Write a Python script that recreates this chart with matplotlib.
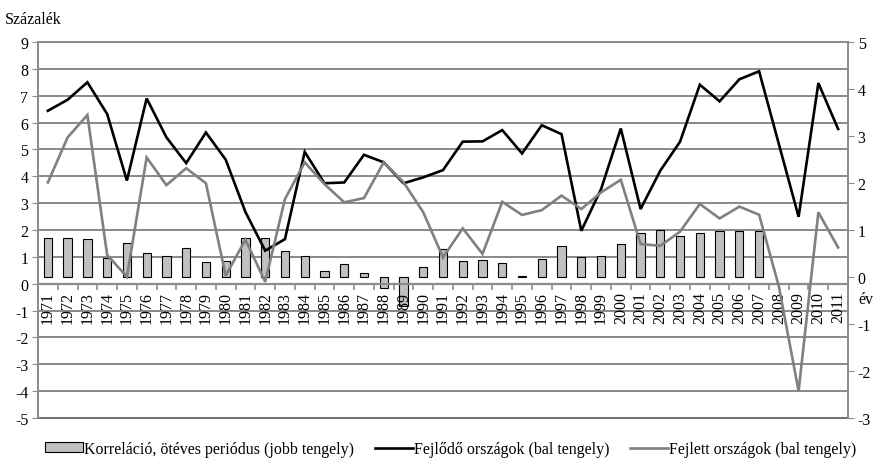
import matplotlib
matplotlib.use("Agg")
import matplotlib.pyplot as plt
from matplotlib.transforms import blended_transform_factory
from matplotlib.lines import Line2D
from matplotlib.patches import Patch
import numpy as np

years = list(range(1971, 2012))
year_labels = [str(y) for y in years]

# Correlation (right axis), five-year period; nan = no bar
korrelacio = [0.83, 0.84, 0.80, 0.40, 0.73, 0.52, 0.45, 0.62, 0.31, 0.33,
              0.82, 0.82, 0.55, 0.44, 0.12, 0.28, 0.09, -0.23, -0.61, 0.22,
              0.60, 0.34, 0.36, 0.29, 0.02, 0.38, 0.67, 0.42, 0.45, 0.70,
              0.93, 0.99, 0.87, 0.93, 0.98, 0.98, 0.97, np.nan, np.nan, np.nan, np.nan]

# Developing countries (left axis)
fejlodo = [6.44, 6.85, 7.50, 6.32, 3.84, 6.90, 5.45, 4.49, 5.63, 4.62,
           2.67, 1.23, 1.66, 4.91, 3.74, 3.77, 4.80, 4.52, 3.74, 3.96,
           4.23, 5.29, 5.30, 5.72, 4.85, 5.90, 5.57, 1.97, 3.52, 5.78,
           2.78, 4.21, 5.29, 7.41, 6.79, 7.61, 7.91, 5.20, 2.49, 7.47, 5.76]

# Developed countries (left axis)
fejlett = [3.77, 5.45, 6.28, 1.07, 0.26, 4.70, 3.67, 4.30, 3.74, 0.30,
           1.64, 0.07, 3.15, 4.52, 3.71, 3.03, 3.19, 4.52, 3.78, 2.66,
           0.98, 2.06, 1.11, 3.05, 2.56, 2.74, 3.28, 2.78, 3.40, 3.87,
           1.48, 1.41, 1.94, 2.97, 2.43, 2.87, 2.57, -0.10, -4.00, 2.66, 1.35]

left_ticks = list(range(-5, 10))
right_ticks = list(range(-3, 6))

plt.rcParams['font.family'] = ['Liberation Serif', 'DejaVu Serif']
plt.rcParams['axes.unicode_minus'] = False
fs = 11.5
grid_col = '#6a6a6a'
axis_col = '#8c8c8c'

fig = plt.figure(figsize=(8.75, 4.64), dpi=100)
ax = fig.add_axes([38/875, 1-419/464, (848-38)/875, (419-43)/464])  # bars, right scale
ax2 = ax.twinx()  # lines, left scale

x = np.arange(len(years))

ax.set_ylim(-3, 5)
ax2.set_ylim(-5, 9)

# gridlines of the left scale, beneath the bars
tr = blended_transform_factory(ax.transAxes, ax2.transData)
for v in left_ticks:
    if v == 0:
        continue
    ax.plot([0, 1], [v, v], transform=tr, color=grid_col, lw=1.1, zorder=0.5, clip_on=False)

ax.bar(x, korrelacio, width=0.42, color='#c0c0c0', edgecolor='black', linewidth=0.8, zorder=2)

ax2.plot(x, fejlodo, color='black', lw=1.9, zorder=3, solid_joinstyle='miter')
ax2.plot(x, fejlett, color='#808080', lw=1.9, zorder=3, solid_joinstyle='miter')

ax.yaxis.tick_right()
ax.set_yticks(right_ticks)
ax2.yaxis.tick_left()
ax2.set_yticks(left_ticks)
ax.tick_params(axis='y', direction='out', length=4, color=axis_col, labelsize=fs, pad=3)
ax2.tick_params(axis='y', direction='out', length=4, color=axis_col, labelsize=fs, pad=3)

for a in (ax, ax2):
    a.spines['top'].set_visible(False)
    a.spines['left'].set_color(axis_col)
    a.spines['right'].set_color(axis_col)
    a.spines['left'].set_linewidth(1.3)
    a.spines['right'].set_linewidth(1.3)

# x axis on the line axes at left-scale zero
ax.spines['bottom'].set_visible(False)
ax.xaxis.set_visible(False)
ax2.xaxis.set_visible(True)
ax2.spines['bottom'].set_visible(True)
ax2.spines['bottom'].set_position(('data', 0))
ax2.spines['bottom'].set_color(axis_col)
ax2.spines['bottom'].set_linewidth(1.6)
ax2.xaxis.set_ticks_position('bottom')
ax2.set_xticks(x)
ax2.set_xticklabels(year_labels, rotation=90, fontsize=fs)
ax2.set_xticks(np.arange(len(years)+1)-0.5, minor=True)
ax2.tick_params(axis='x', which='major', length=0, pad=5)
ax2.tick_params(axis='x', which='minor', length=4, color=axis_col, width=1.2, direction='out')
ax2.set_xlim(-0.5, len(years)-0.5)

ax2.plot([0, 1], [-5, -5], transform=blended_transform_factory(ax2.transAxes, ax2.transData),
         color=grid_col, lw=1.1, clip_on=False)

fig.text(5/875, 1-20/464, 'Százalék', fontsize=fs, ha='left', va='center')
fig.text(858/875, 1-300/464, 'év', fontsize=fs, ha='left', va='center')

handles = [Patch(facecolor='#c0c0c0', edgecolor='black', linewidth=0.8),
           Line2D([0], [0], color='black', lw=1.9),
           Line2D([0], [0], color='#808080', lw=1.9)]
labels = ['Korreláció, ötéves periódus (jobb tengely)',
          'Fejlődő országok (bal tengely)',
          'Fejlett országok (bal tengely)']
fig.legend(handles, labels, loc='center', bbox_to_anchor=(0.515, 1-450/464), ncol=3,
           frameon=False, fontsize=fs, handlelength=2.4, handleheight=0.6,
           columnspacing=1.3, handletextpad=0.05)

fig.savefig('out.png', dpi=100)
